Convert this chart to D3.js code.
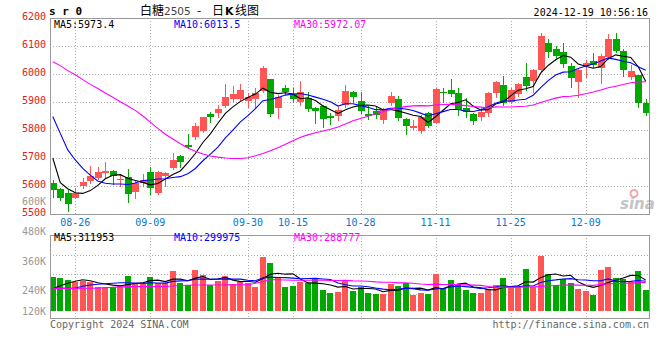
<!DOCTYPE html>
<html><head><meta charset="utf-8">
<script src="https://cdn.jsdelivr.net/npm/d3@7"></script>
<style>body{margin:0;background:#fff}svg{display:block}</style>
</head><body>
<script>
const dates = ["08-21","08-22","08-23","08-26","08-27","08-28","08-29","08-30",
"09-02","09-03","09-04","09-05","09-06","09-09","09-10","09-11","09-12","09-13","09-18","09-19","09-20","09-23","09-24","09-25","09-26","09-27","09-30",
"10-08","10-09","10-10","10-11","10-14","10-15","10-16","10-17","10-18","10-21","10-22","10-23","10-24","10-25","10-28","10-29","10-30","10-31",
"11-01","11-04","11-05","11-06","11-07","11-08","11-11","11-12","11-13","11-14","11-15","11-18","11-19","11-20","11-21","11-22","11-25","11-26","11-27","11-28","11-29",
"12-02","12-03","12-04","12-05","12-06","12-09","12-10","12-11","12-12","12-13","12-16","12-17","12-18","12-19"];

const opens = [5610,5589,5576,5558,5601,5619,5630,5648,5655,5621,
 5633,5580,5610,5649,5574,5637,5663,5707,5746,5776,
 5798,5856,5862,5887,5910,5911,5905,5911,5940,5981,
 5880,5949,5929,5901,5913,5877,5886,5851,5850,5889,
 5937,5905,5857,5868,5836,5898,5911,5838,5808,5796,
 5860,5826,5937,5943,5933,5880,5857,5848,5860,5931,
 5961,5901,5929,5988,5975,6014,6110,6088,6080,6029,
 5973,6030,6047,6020,6060,6125,6082,5990,5996,5898];
const highs = [5621,5594,5585,5594,5627,5671,5669,5687,5658,5642,
 5661,5621,5643,5669,5655,5651,5719,5711,5786,5824,
 5848,5863,5889,5963,5957,5964,5931,5949,6029,5983,
 5925,5961,5949,5975,5937,5881,5889,5860,5881,5961,
 5940,5937,5886,5881,5877,5937,5921,5842,5836,5854,
 5863,5949,5949,5981,5949,5913,5862,5877,5937,5976,
 5993,5949,5969,6040,6018,6145,6124,6100,6110,6040,
 6020,6050,6074,6070,6143,6145,6088,6032,5996,5910];
const lows = [5562,5550,5510,5556,5592,5612,5625,5633,5607,5601,
 5544,5558,5601,5571,5571,5600,5661,5669,5735,5767,
 5794,5830,5848,5881,5900,5907,5881,5881,5937,5851,
 5844,5929,5899,5889,5869,5824,5812,5821,5836,5881,
 5901,5860,5838,5842,5826,5889,5836,5786,5802,5790,
 5812,5824,5901,5921,5854,5848,5820,5836,5851,5919,
 5889,5895,5921,5943,5937,6011,6060,6056,6026,5955,
 5917,5988,6026,5969,6052,6077,5993,5982,5883,5854];
const closes = [5586,5558,5536,5574,5614,5636,5650,5655,5637,5625,
 5570,5612,5621,5592,5651,5648,5693,5685,5740,5814,
 5845,5848,5874,5917,5929,5943,5919,5933,6023,5857,
 5917,5935,5912,5937,5874,5868,5839,5844,5871,5939,
 5917,5869,5851,5854,5871,5921,5844,5814,5814,5848,
 5815,5945,5931,5929,5871,5863,5833,5863,5933,5973,
 5898,5943,5964,5958,6014,6136,6080,6065,6035,5985,
 6014,6038,6032,6064,6125,6083,6014,6009,5898,5862];

const ma5 = [5700,5612,5590,5576,5573.6,5583.6,5602.0,5625.8,5638.4,5640.6,
 5627.4,5619.8,5613.0,5604.0,5609.2,5624.8,5641.0,5653.8,5683.4,5716.0,
 5755.4,5786.4,5824.2,5859.6,5882.6,5902.2,5916.4,5928.2,5949.4,5935.0,
 5929.8,5933.0,5928.8,5911.6,5915.0,5905.2,5886.0,5872.4,5859.2,5872.2,
 5882.0,5888.0,5889.4,5886.0,5872.4,5873.2,5868.2,5860.8,5852.8,5848.2,
 5827.0,5847.2,5870.6,5893.6,5898.2,5907.8,5885.4,5871.8,5872.6,5893.0,
 5900.0,5922.0,5942.2,5947.2,5955.4,6003.0,6030.4,6050.6,6066.0,6060.2,
 6035.8,6027.4,6020.8,6026.6,6054.6,6068.4,6063.6,6059.0,6025.8,5973.4];
const ma10 = [5848,5788,5729,5693,5663,5639,5618,5610,5607,5607.1,
 5605.5,5610.9,5619.4,5621.2,5624.9,5626.1,5630.4,5633.4,5643.7,5662.6,
 5690.1,5713.7,5739.0,5771.5,5799.3,5828.8,5851.4,5876.2,5904.5,5908.8,
 5916.0,5924.7,5928.5,5930.5,5925.0,5917.5,5909.5,5900.6,5885.4,5893.6,
 5893.6,5887.0,5880.9,5872.6,5872.3,5877.6,5878.1,5875.1,5869.4,5860.3,
 5850.1,5857.7,5865.7,5873.2,5873.2,5867.4,5866.3,5871.2,5883.1,5895.6,
 5903.9,5903.7,5907.0,5909.9,5924.2,5951.5,5976.2,5996.4,6006.6,6007.8,
 6019.4,6028.9,6035.7,6046.3,6057.4,6052.1,6045.5,6039.9,6026.2,6013.5];
const ma30 = [6044,6030,6012,5997,5980,5963,5948,5932,5917,5901,
 5886,5870,5850,5828,5806,5785,5768,5751,5736,5724,
 5714,5707,5703,5700,5698,5698,5701,5708,5716,5725.7,
 5736.7,5749.3,5761.8,5773.9,5782.6,5790.3,5796.6,5802.9,5810.7,5821.2,
 5832.8,5841.4,5849.1,5857.8,5865.1,5874.2,5879.2,5883.5,5886.0,5887.1,
 5886.1,5889.3,5891.2,5891.6,5889.7,5887.0,5884.1,5881.8,5878.8,5882.7,
 5882.1,5882.4,5884.1,5884.8,5889.5,5898.4,5906.4,5913.8,5919.3,5920.8,
 5924.0,5929.6,5935.6,5942.6,5951.1,5956.5,5962.2,5968.7,5971.5,5972.07];

// volume, thousands of lots
const volumes = [343,333,313,290,300,290,239,239,239,263,
 357,286,286,343,286,286,407,286,263,417,
 367,263,303,357,270,290,286,245,548,488,
 336,245,256,296,286,326,215,185,195,313,
 202,242,185,172,172,270,253,286,162,182,
 172,377,229,313,273,212,185,185,219,263,
 333,229,229,424,245,559,374,263,323,286,
 222,202,160,414,441,336,320,290,404,210];
const volMa5 = [225,255,280,300,316,305,286,272,261,254,
 267,277,286,307,312,297,322,322,306,332,
 348,319,323,341,312,297,301,290,328,371,
 381,372,375,324,284,282,276,262,241,247,
 222,227,227,223,195,208,210,231,229,231,
 211,236,224,255,273,281,242,234,215,213,
 237,246,255,296,292,337,366,373,353,361,
 294,259,239,257,288,311,334,360,358,311.953];
const volMa10 = [228,229,230,232,250,262,270,276,280,285,
 286,282,279,284,283,282,299,304,306,322,
 323,320,322,324,322,322,310,306,335,342,
 339,337,332,326,328,331,324,318,283,265,
 252,252,245,232,221,215,219,229,226,213,
 210,223,228,242,252,246,239,229,235,243,
 259,244,244,255,252,287,306,314,324,327,
 315,313,306,305,324,302,297,299,308,299.975];
const volMa30 = [229,229,229,229,230,230,231,235,240,244,
 246,246,246,247,247,248,252,258,260,262,
 263,263,263,264,264,265,265,280,298,316,
 316,313,311,311,311,312,311,309,308,310,
 304,303,300,294,290,290,284,284,281,273,
 267,271,268,267,267,264,261,259,248,240,
 240,240,239,243,242,249,255,257,262,261,
 261,260,259,267,276,278,281,281,289,288.777];

const priceTicks = [6200,6100,6000,5900,5800,5700,5600,5500];
const volTickLabels = ["600K","480K","360K","240K","120K"];
const dateTicks = ["08-26","09-09","09-30","10-15","10-28","11-11","11-25","12-09"];
const priceLegend = [{name:"MA5",value:"5973.4"},{name:"MA10",value:"6013.5"},{name:"MA30",value:"5972.07"}];
const volLegend = [{name:"MA5",value:"311953"},{name:"MA10",value:"299975"},{name:"MA30",value:"288777"}];
const maColors = ["#000000","#0000ff","#ff00ff"];

const RED = "#ff5555", GREEN = "#00a800";
const MONO = "'DejaVu Sans Mono', monospace";

const svg = d3.select("body").append("svg").attr("width",660).attr("height",360)
  .style("font-family",MONO);

const x = d3.scaleBand().domain(dates).range([49,649.5]);
const xc = d => x(d) + x.bandwidth()/2;
const y = d3.scaleLinear().domain([5500,6200]).range([214,18]);
const yv = d3.scaleLinear().domain([0,600]).range([311,251.6]);
const idx = dates.map((d,i)=>i);

const P = {l:50, r:649, t:18, b:214};
const V = {t:235, b:318, base:311};

// ---- grids ----
const grid = svg.append("g").attr("stroke","#b0b0b0").attr("stroke-dasharray","1,2").attr("stroke-width",1);
priceTicks.slice(1,-1).forEach(v=>{
  grid.append("line").attr("x1",P.l).attr("x2",P.r).attr("y1",Math.round(y(v))+0.5).attr("y2",Math.round(y(v))+0.5);
});
dateTicks.forEach(d=>{
  const xx = Math.round(xc(d))+0.5;
  grid.append("line").attr("x1",xx).attr("x2",xx).attr("y1",P.t).attr("y2",P.b);
  grid.append("line").attr("x1",xx).attr("x2",xx).attr("y1",V.t).attr("y2",V.b);
});
d3.range(1,4).forEach(k=>{
  const yy = Math.round(V.t + k*19.7)+0.5;
  grid.append("line").attr("x1",P.l).attr("x2",P.r).attr("y1",yy).attr("y2",yy);
});

// ---- watermark ----
const wm = svg.append("g");
wm.append("circle").attr("cx",634).attr("cy",193.5).attr("r",3.5).attr("fill","none").attr("stroke","#f2a8a8").attr("stroke-width",2);
wm.append("text").attr("x",620).attr("y",209).attr("font-family","'DejaVu Sans', sans-serif")
  .attr("font-size",15).attr("font-weight","bold").attr("font-style","italic").attr("fill","#c4c4c4").text("sina");

// ---- candles ----
const cg = svg.append("g");
idx.forEach(i=>{
  const d = dates[i];
  const up = closes[i] >= opens[i];
  const col = up ? RED : GREEN;
  const cx = Math.round(xc(d));
  cg.append("line").attr("x1",cx+0.5).attr("x2",cx+0.5)
    .attr("y1",Math.round(y(highs[i]))).attr("y2",Math.round(y(lows[i]))+1)
    .attr("stroke",col).attr("stroke-width",1);
  const yt = Math.round(y(Math.max(opens[i],closes[i])));
  const yb = Math.round(y(Math.min(opens[i],closes[i])));
  cg.append("rect").attr("x",cx-3).attr("width",7).attr("y",yt).attr("height",Math.max(1,yb-yt))
    .attr("fill",col).attr("shape-rendering","crispEdges");
});

// ---- price MA lines ----
[ma5,ma10,ma30].forEach((arr,k)=>{
  svg.append("path").datum(idx)
    .attr("d", d3.line().x(i=>xc(dates[i])).y(i=>y(arr[i])))
    .attr("fill","none").attr("stroke",maColors[k]).attr("stroke-width",1.1);
});

// ---- volume bars ----
const vg = svg.append("g");
idx.forEach(i=>{
  const up = closes[i] >= opens[i];
  const cx = Math.round(xc(dates[i]));
  const top = Math.round(yv(volumes[i]));
  vg.append("rect").attr("x",cx-3).attr("width",6).attr("y",top).attr("height",Math.round(yv(0))-top)
    .attr("fill", up?RED:GREEN).attr("shape-rendering","crispEdges");
});
[volMa5,volMa10,volMa30].forEach((arr,k)=>{
  svg.append("path").datum(idx)
    .attr("d", d3.line().x(i=>xc(dates[i])).y(i=>yv(arr[i])))
    .attr("fill","none").attr("stroke",maColors[k]).attr("stroke-width",1.1);
});

// ---- borders ----
const bd = svg.append("g").attr("fill","none").attr("stroke","#999").attr("stroke-width",1).attr("shape-rendering","crispEdges");
bd.append("rect").attr("x",P.l+0.5).attr("y",P.t+0.5).attr("width",P.r-P.l).attr("height",P.b-P.t);
bd.append("rect").attr("x",P.l+0.5).attr("y",V.t+0.5).attr("width",P.r-P.l).attr("height",V.b-V.t);

// ---- axis labels ----
svg.append("g").selectAll("text").data(priceTicks).join("text")
  .attr("x",46).attr("y",v=>y(v)-2).attr("dy","0.35em").attr("text-anchor","end")
  .attr("font-size",10).attr("fill","#e02020").text(v=>v);

const vlab = d3.scalePoint().domain(volTickLabels).range([201.8,320.6]);
svg.append("g").selectAll("text").data(volTickLabels).join("text")
  .attr("x",46).attr("y",t=>Math.min(vlab(t),311)).attr("dy","0.35em").attr("text-anchor","end")
  .attr("font-size",10).attr("fill","#999").text(t=>t);

svg.append("g").selectAll("text").data(dateTicks).join("text")
  .attr("x",d=>xc(d)).attr("y",222).attr("dy","0.35em").attr("text-anchor","middle")
  .attr("font-size",10).attr("fill","#0a78cc").text(d=>d);

// ---- legends ----
const legX = [54,174,294];
priceLegend.forEach((l,k)=>{
  svg.append("text").attr("x",legX[k]).attr("y",24).attr("dy","0.35em").attr("font-size",10)
    .attr("fill",maColors[k]).text(l.name+":"+l.value);
});
volLegend.forEach((l,k)=>{
  svg.append("text").attr("x",legX[k]).attr("y",237.5).attr("dy","0.35em").attr("font-size",10)
    .attr("fill",maColors[k]).text(l.name+":"+l.value);
});

// ---- header ----
svg.append("text").attr("x",49).attr("y",11).attr("dy","0.35em").attr("font-size",11).attr("font-weight","bold")
  .attr("fill","#000").text("s r 0");
const title = svg.append("text").attr("y",11).attr("dy","0.35em").attr("font-size",12)
  .attr("font-family","'Noto Sans CJK SC', sans-serif").attr("fill","#000");
title.append("tspan").attr("x",140).text("白糖");
title.append("tspan").attr("x",164).attr("fill","#444").attr("font-family","'DejaVu Sans', sans-serif").attr("font-size",10.5).text("2505");
title.append("tspan").attr("x",197).text("-");
title.append("tspan").attr("x",212).text("日");
title.append("tspan").attr("x",225).attr("font-weight","bold").attr("font-family","'DejaVu Sans', sans-serif").attr("font-size",11).text("K");
title.append("tspan").attr("x",235).text("线图");
svg.append("text").attr("x",648).attr("y",12).attr("dy","0.35em").attr("text-anchor","end")
  .attr("font-size",10).attr("fill","#000").text("2024-12-19 10:56:16");

// ---- footer ----
svg.append("text").attr("x",50).attr("y",324).attr("dy","0.35em").attr("font-size",10).attr("fill","#666")
  .text("Copyright 2024 SINA.COM");
svg.append("text").attr("x",649).attr("y",324).attr("dy","0.35em").attr("text-anchor","end").attr("font-size",10).attr("fill","#666")
  .text("http://finance.sina.com.cn");
</script>
</body></html>
